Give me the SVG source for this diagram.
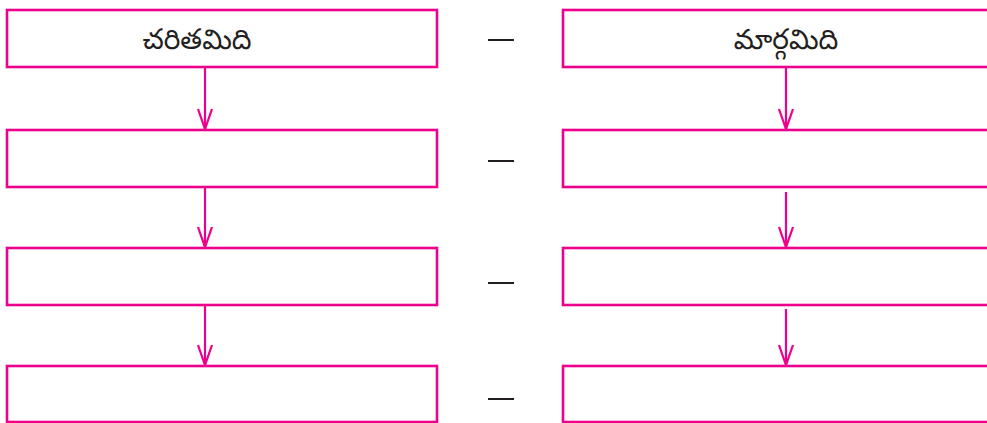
<svg xmlns="http://www.w3.org/2000/svg" width="987" height="423" viewBox="0 0 987 423">
<style>
.box{fill:#fff;stroke:#ec008c;stroke-width:2.6}
.arr{fill:none;stroke:#ec008c;stroke-width:2.2}
.dash{stroke:#231f20;stroke-width:2}
.lbl{font-family:"Noto Sans Telugu","Noto Sans","DejaVu Sans",sans-serif;font-size:28px;fill:#231f20;text-anchor:middle}
</style>
<defs>
<marker id="ah" viewBox="0 0 22 16" refX="21" refY="8" markerWidth="22" markerHeight="16" markerUnits="userSpaceOnUse" orient="auto">
<path d="M1,1 L21,8 L1,15" fill="none" stroke="#ec008c" stroke-width="2.2"/>
</marker>
</defs>
<rect width="987" height="423" fill="#fff"/>
<g id="connectors">
<line class="arr" x1="205" y1="67" x2="205" y2="129" marker-end="url(#ah)"/>
<line class="arr" x1="205" y1="187" x2="205" y2="247" marker-end="url(#ah)"/>
<line class="arr" x1="205" y1="305" x2="205" y2="365" marker-end="url(#ah)"/>
<line class="arr" x1="786" y1="67" x2="786" y2="129" marker-end="url(#ah)"/>
<line class="arr" x1="786" y1="192" x2="786" y2="247" marker-end="url(#ah)"/>
<line class="arr" x1="786" y1="309" x2="786" y2="365" marker-end="url(#ah)"/>
</g>
<g id="dashes">
<line class="dash" x1="488" y1="40" x2="514" y2="40"/>
<line class="dash" x1="488" y1="161" x2="514" y2="161"/>
<line class="dash" x1="488" y1="283" x2="514" y2="283"/>
<line class="dash" x1="488" y1="399" x2="514" y2="399"/>
</g>
<g id="L1"><rect class="box" x="7" y="10" width="430" height="57"/><text class="lbl" x="197" y="49">చరితమిది</text></g>
<g id="L2"><rect class="box" x="7" y="130" width="430" height="57"/></g>
<g id="L3"><rect class="box" x="7" y="248" width="430" height="57"/></g>
<g id="L4"><rect class="box" x="7" y="366" width="430" height="56"/></g>
<g id="R1"><rect class="box" x="563" y="10" width="430" height="57"/><text class="lbl" x="786" y="49">మార్గమిది</text></g>
<g id="R2"><rect class="box" x="563" y="130" width="430" height="57"/></g>
<g id="R3"><rect class="box" x="563" y="248" width="430" height="57"/></g>
<g id="R4"><rect class="box" x="563" y="366" width="430" height="56"/></g>
</svg>
